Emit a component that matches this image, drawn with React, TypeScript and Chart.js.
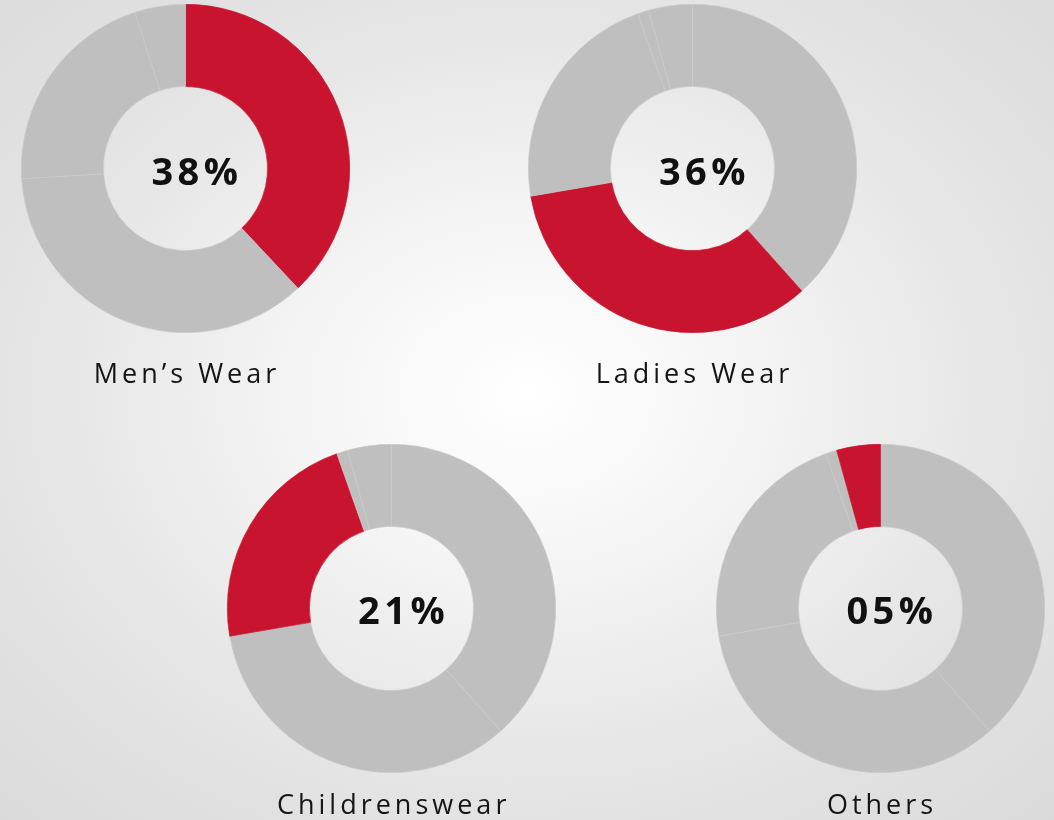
import React, { useEffect, useRef } from "react";
import { Chart, registerables } from "chart.js";

Chart.register(...registerables);

// ---- data ----
const categories = ["Men’s Wear", "Ladies Wear", "Childrenswear", "Others"];
const percentLabels = ["38%", "36%", "21%", "05%"];
const mensValues = [38, 36, 21, 5];
const ladiesValues = [38.4, 33.9, 22.3, 1.1, 4.3];
const childrensValues = [38.4, 33.9, 22.3, 1.1, 4.3];
const othersValues = [38.4, 33.9, 22.3, 1.1, 4.3];
const highlightIndex = [0, 1, 2, 4];

const RED = "#C8142F";
const GRAY = "#BFBFBF";

type DonutProps = {
  values: number[];
  highlight: number;
  cx: number;
  cy: number;
  label: string;
  pct: string;
  labelTop: number;
};

const SIZE = 329;

function Donut({ values, highlight, cx, cy, label, pct, labelTop }: DonutProps) {
  const ref = useRef<HTMLCanvasElement | null>(null);
  useEffect(() => {
    if (!ref.current) return;
    const chart = new Chart(ref.current, {
      type: "doughnut",
      data: {
        labels: values.map((_, i) => String(i)),
        datasets: [
          {
            data: values,
            backgroundColor: values.map((_, i) => (i === highlight ? RED : GRAY)),
            borderColor: values.map((_, i) => (i === highlight ? RED : "#CACACA")),
            borderWidth: 0.7,
            hoverOffset: 0,
          },
        ],
      },
      options: {
        animation: false,
        responsive: false,
        maintainAspectRatio: false,
        cutout: "50%",
        events: [],
        layout: { padding: 0 },
        plugins: { legend: { display: false }, tooltip: { enabled: false } },
      },
    });
    return () => chart.destroy();
  }, [values, highlight]);

  return (
    <>
      <canvas
        ref={ref}
        width={SIZE}
        height={SIZE}
        style={{
          position: "absolute",
          left: cx - SIZE / 2,
          top: cy - SIZE / 2,
          width: SIZE,
          height: SIZE,
        }}
      />
      <div
        style={{
          position: "absolute",
          left: cx - 100 + 12,
          top: cy - 29,
          width: 200,
          height: 60,
          lineHeight: "60px",
          textAlign: "center",
          fontFamily: "'Open Sans', sans-serif",
          fontWeight: 700,
          fontSize: 38,
          letterSpacing: 4.5,
          color: "#111",
        }}
      >
        {pct}
      </div>
      <div
        style={{
          position: "absolute",
          left: cx - 200 + 2,
          top: labelTop,
          width: 400,
          textAlign: "center",
          fontFamily: "'Open Sans', sans-serif",
          fontWeight: 400,
          fontSize: 27,
          lineHeight: "34px",
          letterSpacing: 4,
          color: "#151515",
          whiteSpace: "nowrap",
        }}
      >
        {label}
      </div>
    </>
  );
}

export default function App() {
  return (
    <div
      style={{
        position: "fixed",
        left: 0,
        top: 0,
        width: 1054,
        height: 820,
        overflow: "hidden",
        background:
          "radial-gradient(ellipse 75% 75% at 50% 48%, #ffffff 0%, #f6f6f6 25%, #e6e6e6 60%, #d9d9d9 100%)",
      }}
    >
      <Donut values={mensValues} highlight={highlightIndex[0]} cx={185} cy={168.7} label={categories[0]} pct={percentLabels[0]} labelTop={356} />
      <Donut values={ladiesValues} highlight={highlightIndex[1]} cx={692.5} cy={168.7} label={categories[1]} pct={percentLabels[1]} labelTop={356} />
      <Donut values={childrensValues} highlight={highlightIndex[2]} cx={391.7} cy={608.3} label={categories[2]} pct={percentLabels[2]} labelTop={787} />
      <Donut values={othersValues} highlight={highlightIndex[3]} cx={880} cy={608.3} label={categories[3]} pct={percentLabels[3]} labelTop={787} />
    </div>
  );
}
